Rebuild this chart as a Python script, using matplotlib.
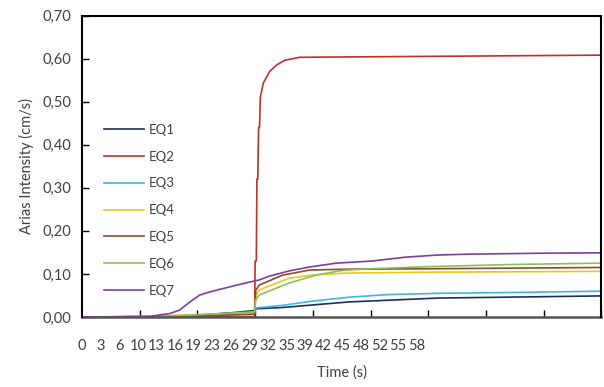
import numpy as np
import matplotlib
matplotlib.use("Agg")
import matplotlib.pyplot as plt

plt.rcParams['font.family'] = ['Lato', 'DejaVu Sans']

# --- DATA ---
t_eq1 = [0, 12, 20, 26, 29.9, 30.1, 34.7, 40, 46.3, 53.2, 61.8, 73.4, 90]
v_eq1 = [0, 0.001, 0.004, 0.010, 0.015, 0.019, 0.022, 0.028, 0.035, 0.039, 0.044, 0.046, 0.049]

t_eq2 = [0, 29.9, 30.0, 30.2, 30.3, 30.45, 30.6, 30.75, 30.9, 31.4, 32.5, 33.7, 35.1, 37.7, 58.4, 90]
v_eq2 = [0, 0, 0.13, 0.13, 0.32, 0.32, 0.44, 0.44, 0.51, 0.543, 0.57, 0.585, 0.596, 0.603, 0.605, 0.608]

t_eq3 = [0, 15, 29.9, 30.1, 34.7, 40, 46.3, 53, 62, 75, 90]
v_eq3 = [0, 0.001, 0.008, 0.021, 0.027, 0.037, 0.046, 0.052, 0.055, 0.057, 0.060]

t_eq4 = [0, 12, 16, 29.9, 30.1, 30.7, 35.9, 40.3, 46, 60, 90]
v_eq4 = [0, 0.001, 0.004, 0.008, 0.050, 0.063, 0.090, 0.098, 0.102, 0.104, 0.106]

t_eq5 = [0, 14, 29.9, 30.1, 30.7, 34.7, 39.4, 46, 60, 90]
v_eq5 = [0, 0.001, 0.006, 0.062, 0.074, 0.097, 0.109, 0.111, 0.112, 0.115]

t_eq6 = [0, 14, 29.9, 30.1, 30.7, 35.9, 40.5, 45, 50, 60, 75, 90]
v_eq6 = [0, 0.001, 0.012, 0.040, 0.051, 0.079, 0.097, 0.108, 0.112, 0.117, 0.122, 0.125]

t_eq7 = [0, 11.7, 13.5, 15.2, 16.9, 18.7, 20.4, 22.1, 25.6, 29.0, 30.7, 32.5, 35.9,
         39.4, 44.0, 50.3, 56.1, 61.8, 67.5, 79.1, 90]
v_eq7 = [0, 0.001, 0.005, 0.008, 0.016, 0.035, 0.051, 0.058, 0.070, 0.081, 0.086, 0.095, 0.107,
         0.116, 0.125, 0.130, 0.139, 0.144, 0.146, 0.148, 0.149]

series = [
    ("EQ1", t_eq1, v_eq1, "#1f2f5c"),
    ("EQ2", t_eq2, v_eq2, "#c0302b"),
    ("EQ3", t_eq3, v_eq3, "#3db6e0"),
    ("EQ4", t_eq4, v_eq4, "#e8c520"),
    ("EQ5", t_eq5, v_eq5, "#8a4a2a"),
    ("EQ6", t_eq6, v_eq6, "#8dc05a"),
    ("EQ7", t_eq7, v_eq7, "#7d3f98"),
]

# x tick labels as Excel squeezed them
x_labels = ["0", "3", "6", "10", "13", "16", "19", "23", "26", "29",
            "32", "35", "39", "42", "45", "48", "52", "55", "58"]
x_label_pos = np.linspace(0, 58, len(x_labels))
x_ticks = np.arange(0, 91, 10)
y_ticks = np.arange(0, 0.71, 0.1)

fig = plt.figure(figsize=(6.04, 3.87), dpi=100)
ax = fig.add_axes([0.1358, 0.1809, 0.860, 0.779])

for name, t, v, c in series:
    ax.plot(t, v, color=c, linewidth=1.2, label=name)

ax.set_xlim(0, 90)
ax.set_ylim(0, 0.70)

# labels on major (no marks), tick marks on minor
ax.set_xticks(x_label_pos)
ax.set_xticklabels(x_labels, fontsize=10.5, color="#404040")
ax.set_xticks(x_ticks, minor=True)
ax.tick_params(axis='x', which='major', length=0, pad=16)
ax.tick_params(axis='x', which='minor', direction='in', length=5, width=1)

ax.set_yticks(y_ticks)
ax.set_yticklabels([f"{y:.2f}".replace(".", ",") for y in y_ticks], fontsize=10.5, color="#404040")
ax.tick_params(axis='y', direction='in', length=5, width=1, pad=8)

for s in ["top", "right", "left"]:
    ax.spines[s].set_visible(True)
    ax.spines[s].set_color("black")
    ax.spines[s].set_linewidth(1.5)
    ax.spines[s].set_zorder(5)
ax.spines["bottom"].set_color("#555555")
ax.spines["bottom"].set_linewidth(1.8)

ax.set_xlabel("Time (s)", fontsize=10.5, color="#404040", labelpad=9)
ax.set_ylabel("Arias Intensity (cm/s)", fontsize=10.5, color="#404040", labelpad=6)

leg = ax.legend(loc="upper left", bbox_to_anchor=(0.02, 0.68), frameon=False,
                fontsize=9.5, handlelength=3.0, handletextpad=0.4, labelspacing=1.12)
for txt in leg.get_texts():
    txt.set_color("#404040")

fig.savefig("out.png", dpi=100)
